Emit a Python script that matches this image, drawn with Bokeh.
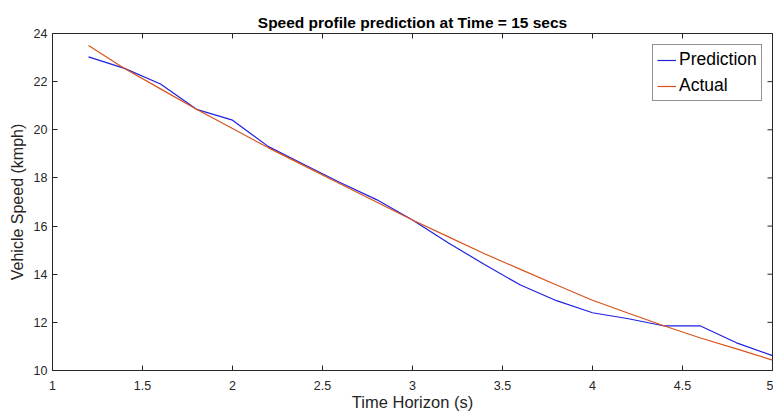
from bokeh.plotting import figure
from bokeh.models import FixedTicker, Range1d, Legend, LegendItem
from bokeh.embed import file_html
from bokeh.resources import INLINE

# ---- data ----
time_horizon = [1.2, 1.4, 1.6, 1.8, 2.0, 2.2, 2.4, 2.6, 2.8, 3.0,
                3.2, 3.4, 3.6, 3.8, 4.0, 4.2, 4.4, 4.6, 4.8, 5.0]
prediction = [23.03, 22.55, 21.9, 20.85, 20.4, 19.3, 18.55, 17.8, 17.1, 16.25,
              15.3, 14.4, 13.55, 12.9, 12.4, 12.15, 11.85, 11.85, 11.15, 10.62]
actual = [23.5, 22.55, 21.7, 20.85, 20.05, 19.25, 18.5, 17.75, 17.0, 16.25,
          15.55, 14.85, 14.2, 13.55, 12.92, 12.38, 11.85, 11.35, 10.9, 10.43]
x_ticks = [1, 1.5, 2, 2.5, 3, 3.5, 4, 4.5, 5]
x_tick_labels = ["1", "1.5", "2", "2.5", "3", "3.5", "4", "4.5", "5"]
y_ticks = [10, 12, 14, 16, 18, 20, 22, 24]
y_tick_labels = ["10", "12", "14", "16", "18", "20", "22", "24"]
x_min, x_max = 1, 5
y_min, y_max = 10, 24

FONT = "Liberation Sans"
AX = "#262626"

p = figure(width=773, height=414, output_backend="svg", toolbar_location=None,
           x_range=Range1d(x_min, x_max), y_range=Range1d(y_min, y_max),
           min_border_left=52, min_border_right=1, min_border_top=33, min_border_bottom=44,
           title="Speed profile prediction at Time = 15 secs")

p.title.align = "center"
p.title.text_font = FONT
p.title.text_font_size = "15.5px"
p.title.text_font_style = "bold"
p.title.text_color = "#000000"
p.title.standoff = 5

p.xgrid.visible = False
p.ygrid.visible = False
p.outline_line_color = AX
p.outline_line_alpha = 1.0
p.background_fill_color = "white"
p.border_fill_color = "white"

def style_axis(ax, ticks, labels):
    ax.ticker = FixedTicker(ticks=ticks)
    ax.major_label_overrides = {t: l for t, l in zip(ticks, labels)}
    ax.minor_tick_line_color = None
    ax.major_tick_in = 5
    ax.major_tick_out = 0
    ax.major_tick_line_color = AX
    ax.axis_line_color = AX
    ax.major_label_text_font = FONT
    ax.major_label_text_color = AX
    ax.major_label_text_font_size = "12.5px"
    ax.axis_label_text_font = FONT
    ax.axis_label_text_color = AX
    ax.axis_label_text_font_style = "normal"
    ax.axis_label_text_font_size = "16px"

xa = p.xaxis[0]
style_axis(xa, x_ticks, x_tick_labels)
xa.major_label_standoff = 10
xa.axis_label = "Time Horizon (s)"
xa.axis_label_text_font_size = "16.5px"
xa.axis_label_standoff = 0

ya = p.yaxis[0]
style_axis(ya, y_ticks, y_tick_labels)
ya.major_label_standoff = 5
ya.axis_label = "Vehicle Speed (kmph)"
ya.axis_label_standoff = 5

# inward tick marks on the top and right edges of the box (MATLAB style)
p.scatter(x=x_ticks, y=[y_max] * len(x_ticks), marker="dash", angle=1.5708,
          size=10, line_color=AX, line_width=1)
p.scatter(x=[x_max] * len(y_ticks), y=y_ticks, marker="dash",
          size=10, line_color=AX, line_width=1)

r_pred = p.line(time_horizon, prediction, line_color="#2020e0", line_width=1.2)
r_act = p.line(time_horizon, actual, line_color="#D95319", line_width=1.2)

legend = Legend(items=[LegendItem(label="Prediction", renderers=[r_pred]),
                       LegendItem(label="Actual", renderers=[r_act])],
                location=(600, 269))
legend.label_text_font = FONT
legend.label_text_font_size = "17.5px"
legend.label_text_color = "#000000"
legend.glyph_width = 19
legend.glyph_height = 20
legend.label_height = 20
legend.label_standoff = 3
legend.spacing = 5
legend.padding = 4
legend.margin = 0
legend.border_line_color = AX
legend.border_line_width = 1
legend.background_fill_color = "white"
p.add_layout(legend, "center")

open("out.html", "w").write(file_html(p, INLINE))
